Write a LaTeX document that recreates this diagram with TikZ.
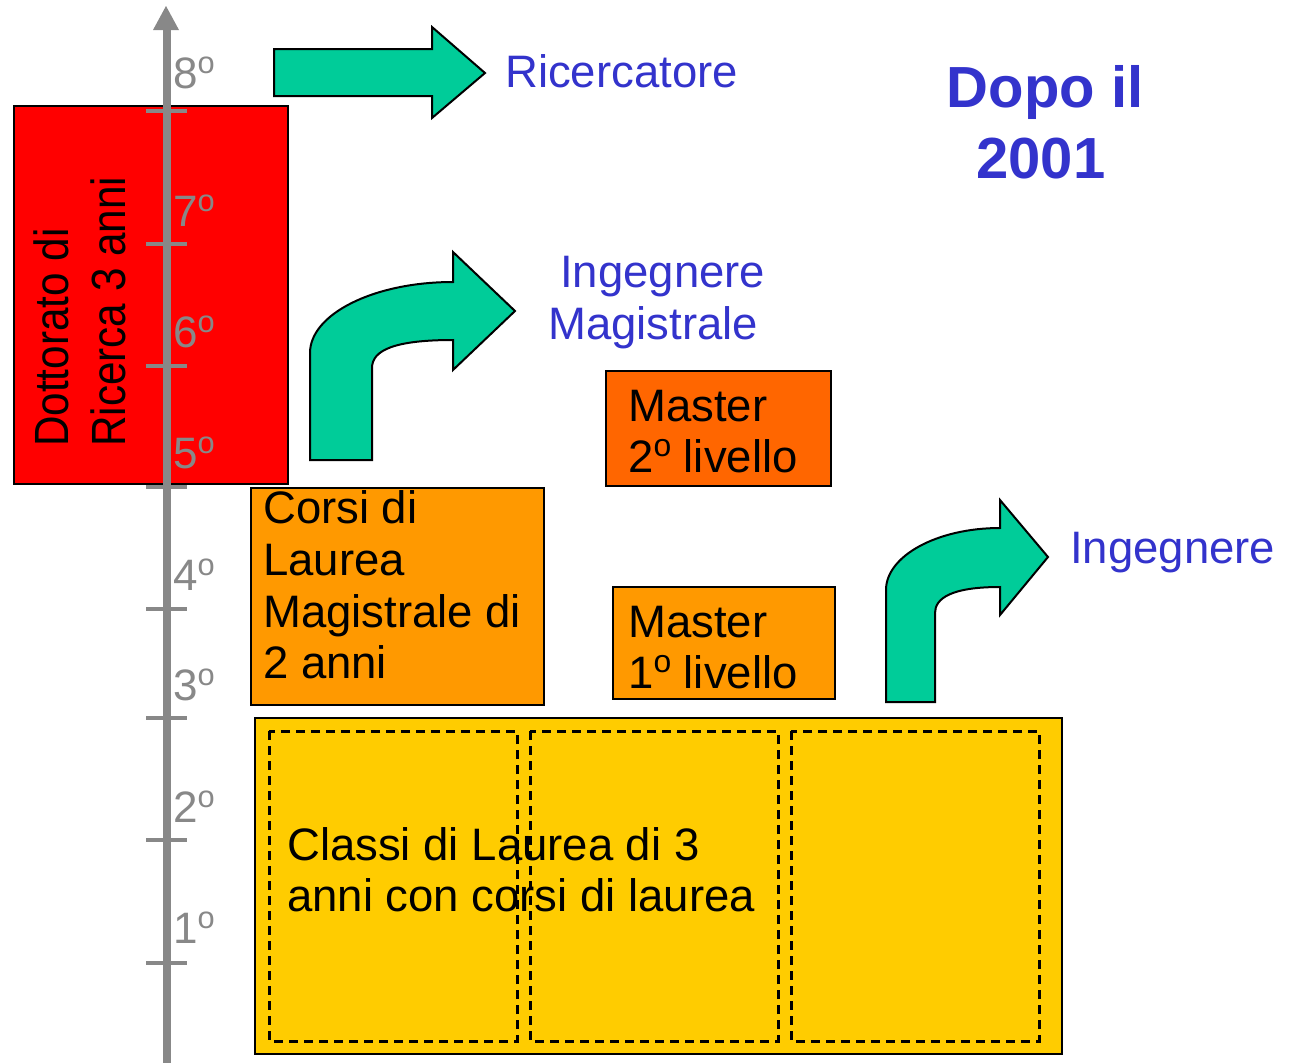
\documentclass[tikz,border=0pt]{standalone}
\usepackage{fontspec}
\setmainfont{Liberation Sans}
\usepackage{graphicx}
\definecolor{cRed}{HTML}{FF0000}
\definecolor{cDarkOrange}{HTML}{FF6600}
\definecolor{cOrange}{HTML}{FF9900}
\definecolor{cYellow}{HTML}{FFCC00}
\definecolor{cTeal}{HTML}{00CC99}
\definecolor{cBlue}{HTML}{3333CC}
\definecolor{cGray}{HTML}{888888}
\makeatletter
\newcommand{\ordo}{\raisebox{0.34em}{\fontsize{0.7\dimexpr\f@size pt\relax}{0pt}\selectfont o}}
\makeatother
\tikzset{
  boxshape/.style={draw=black, line width=2pt},
  arrowshape/.style={draw=black, line width=2pt, fill=cTeal, line join=miter},
  dashbox/.style={draw=black, line width=3pt, dash pattern=on 9pt off 6pt},
  bodytext/.style={inner sep=0pt, anchor=base west, font=\fontsize{45.5}{50}\selectfont, text=black},
  bluetext/.style={bodytext, text=cBlue},
  bigtext/.style={inner sep=0pt, anchor=base, font=\fontsize{58}{70}\selectfont\bfseries, text=cBlue},
  gradetext/.style={inner sep=0pt, anchor=base west, font=\fontsize{44}{50}\selectfont, text=cGray},
  redtext/.style={inner sep=0pt, anchor=base west, rotate=90, font=\fontsize{48}{56}\selectfont, text=black},
  axisline/.style={draw=cGray, line width=8pt},
  tickline/.style={draw=cGray, line width=3.5pt},
}
\begin{document}
\begin{tikzpicture}[x=1pt,y=-1pt]
\useasboundingbox (0,0) rectangle (1291,1063);

% yellow box
\path[boxshape, fill=cYellow] (255,718) rectangle (1062,1054);
\path[dashbox] (269,731) rectangle (517,1041);
\path[dashbox] (530,731) rectangle (778,1041);
\path[dashbox] (791,731) rectangle (1039,1041);
\node[bodytext] (cl1) at (287,860) {Classi di Laurea di 3};
\node[bodytext] (cl2) at (287,911) {anni con corsi di laurea};

% red box
\path[boxshape, fill=cRed] (14,106) rectangle (288,484);
\node[redtext] (dr1) at (68,447) {\scalebox{0.88}[1]{Dottorato di}};
\node[redtext] (dr2) at (125,447) {\scalebox{0.88}[1]{Ricerca 3 anni}};

% axis
\path[axisline] (167,1063) -- (167,28);
\fill[cGray] (166,6) -- (179,30) -- (153,30) -- cycle;
\foreach \t in {111,244,366,487,609,718,840,963}{
  \path[tickline] (146,\t) -- (187,\t);
}
\node[gradetext] (g8) at (173,88) {8\ordo};
\node[gradetext] (g7) at (173,226) {7\ordo};
\node[gradetext] (g6) at (173,347) {6\ordo};
\node[gradetext] (g5) at (173,468) {5\ordo};
\node[gradetext] (g4) at (173,590) {4\ordo};
\node[gradetext] (g3) at (173,700) {3\ordo};
\node[gradetext] (g2) at (173,822) {2\ordo};
\node[gradetext] (g1) at (173,943) {1\ordo};

% orange boxes
\path[boxshape, fill=cOrange] (251,488) rectangle (544,705);
\node[bodytext] (co1) at (263,523) {Corsi di};
\node[bodytext] (co2) at (263,575) {Laurea};
\node[bodytext] (co3) at (263,627) {Magistrale di};
\node[bodytext] (co4) at (263,678) {2 anni};

\path[boxshape, fill=cDarkOrange] (606,371) rectangle (831,486);
\node[bodytext] (m21) at (628,421) {Master};
\node[bodytext] (m22) at (628,472) {2\ordo\ livello};

\path[boxshape, fill=cOrange] (613,587) rectangle (835,699);
\node[bodytext] (m11) at (628,637) {Master};
\node[bodytext] (m12) at (628,688) {1\ordo\ livello};

% straight arrow
\path[arrowshape] (274,49) -- (432,49) -- (432,27) -- (485,73) -- (432,118) -- (432,96) -- (274,96) -- cycle;
\node[bluetext] (ric) at (505,87) {Ricercatore};

% bent arrow 1
\path[arrowshape] (310,460) -- (310,353)
   .. controls (310,314) and (374,282) .. (453,282)
   -- (453,252) -- (515,311) -- (453,370) -- (453,340)
   .. controls (395,340) and (372,350) .. (372,368)
   -- (372,460) -- cycle;
\node[bluetext] (im1) at (560,287) {Ingegnere};
\node[bluetext] (im2) at (548,339) {Magistrale};

% bent arrow 2
\path[arrowshape] (886,702) -- (886,590)
   .. controls (886,556) and (937,528) .. (1000,528)
   -- (1000,500) -- (1048,557) -- (1000,615) -- (1000,587)
   .. controls (952,587) and (935,598) .. (935,613)
   -- (935,702) -- cycle;
\node[bluetext] (ing) at (1070,563) {Ingegnere};

% title
\node[bigtext] (t1) at (1045,107) {Dopo il};
\node[bigtext] (t2) at (1041,178) {2001};
\end{tikzpicture}
\end{document}
